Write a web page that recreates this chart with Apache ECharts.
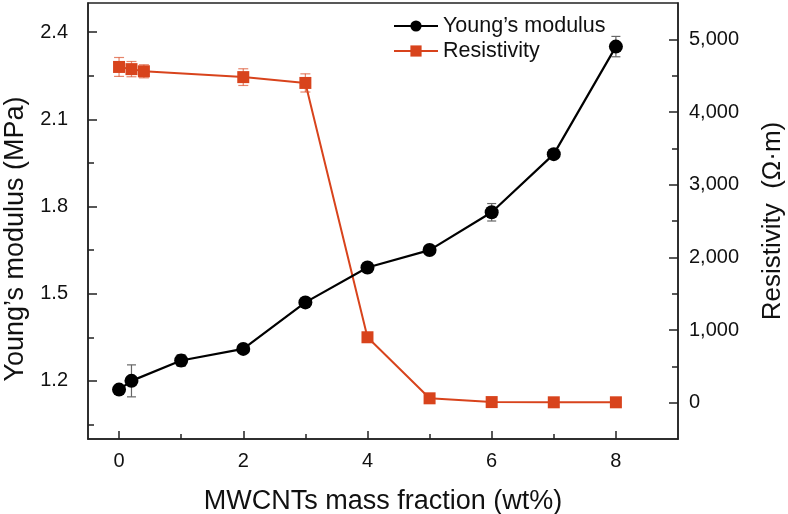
<!DOCTYPE html>
<html>
<head>
<meta charset="utf-8">
<script src="https://cdn.jsdelivr.net/npm/echarts@6/dist/echarts.min.js"></script>
<style>html,body{margin:0;padding:0;background:#fff}#c{width:788px;height:514px}</style>
</head>
<body>
<div id="c"></div>
<script>
// ---- data ----
const xYoung = [0, 0.2, 1, 2, 3, 4, 5, 6, 7, 8];
const young = [1.17, 1.20, 1.27, 1.31, 1.47, 1.59, 1.65, 1.78, 1.98, 2.35];
const youngErr = [0.01, 0.055, 0.02, 0.01, 0.015, 0.01, 0.015, 0.03, 0.015, 0.035];
const xRes = [0, 0.2, 0.4, 2, 3, 4, 5, 6, 7, 8];
const resistivity = [4620, 4590, 4560, 4480, 4400, 900, 60, 8, 5, 5];
const resErr = [130, 105, 90, 115, 125, 40, 30, 10, 10, 10];
const xTickLabels = [0, 2, 4, 6, 8];
const xMinorTicks = [1, 3, 5, 7];
const leftTickLabels = [1.2, 1.5, 1.8, 2.1, 2.4];
const leftMinorTicks = [1.05, 1.35, 1.65, 1.95, 2.25];
const rightTickLabels = [0, 1000, 2000, 3000, 4000, 5000];
const rightMinorTicks = [500, 1500, 2500, 3500, 4500];

const FONT = 'Liberation Sans';
const RED = '#d8431c';
const AX = '#222';

const youngData = xYoung.map((x, i) => [x, young[i]]);
const resData = xRes.map((x, i) => [x, resistivity[i]]);
const youngErrData = xYoung.map((x, i) => [x, young[i] - youngErr[i], young[i] + youngErr[i]]);
const resErrData = xRes.map((x, i) => [x, resistivity[i] - resErr[i], resistivity[i] + resErr[i]]);

function errRender(color, capHalf, lw) {
  return function (params, api) {
    const x = api.value(0);
    const p1 = api.coord([x, api.value(1)]);
    const p2 = api.coord([x, api.value(2)]);
    const st = { stroke: color, lineWidth: lw };
    return {
      type: 'group',
      children: [
        { type: 'line', shape: { x1: p1[0], y1: p1[1], x2: p2[0], y2: p2[1] }, style: st },
        { type: 'line', shape: { x1: p1[0] - capHalf, y1: p1[1], x2: p1[0] + capHalf, y2: p1[1] }, style: st },
        { type: 'line', shape: { x1: p2[0] - capHalf, y1: p2[1], x2: p2[0] + capHalf, y2: p2[1] }, style: st }
      ]
    };
  };
}

const fmtThousands = v => String(Math.round(v)).replace(/\B(?=(\d{3})+(?!\d))/g, ',');

const chart = echarts.init(document.getElementById('c'), null, { renderer: 'canvas' });
chart.setOption({
  animation: false,
  backgroundColor: '#fff',
  textStyle: { fontFamily: FONT },
  grid: { left: 88, right: 110, top: 3, bottom: 75, containLabel: false, outerBoundsMode: 'none', show: true, borderColor: AX, borderWidth: 1.5, backgroundColor: 'transparent' },
  legend: {
    data: ['Young\u2019s modulus', 'Resistivity'],
    orient: 'vertical',
    left: 388,
    top: 10,
    itemWidth: 44,
    itemHeight: 14,
    itemGap: 3,
    textStyle: { fontSize: 21.5, color: '#111', fontFamily: FONT }
  },
  xAxis: [
    {
      type: 'value', min: -0.5, max: 9, position: 'bottom',
      name: 'MWCNTs mass fraction (wt%)', nameLocation: 'middle', nameGap: 49,
      nameTextStyle: { fontSize: 27, color: '#111', fontFamily: FONT },
      axisLine: { show: true, onZero: false, lineStyle: { color: AX, width: 1.5 } },
      axisTick: { show: true, inside: true, length: 8, customValues: xTickLabels, lineStyle: { color: AX, width: 1.5 } },
      axisLabel: { show: true, customValues: xTickLabels, fontSize: 20, color: '#111', margin: 12, fontFamily: FONT },
      splitLine: { show: false }
    },
    {
      type: 'value', min: -0.5, max: 9, position: 'bottom',
      axisLine: { show: false, onZero: false },
      axisTick: { show: true, inside: true, length: 5, customValues: xMinorTicks, lineStyle: { color: AX, width: 1.5 } },
      axisLabel: { show: false },
      splitLine: { show: false }
    }
  ],
  yAxis: [
    {
      type: 'value', min: 1.0, max: 2.5, position: 'left',
      name: 'Young\u2019s modulus (MPa)', nameLocation: 'middle', nameGap: 58, nameRotate: 90,
      nameTextStyle: { fontSize: 27, color: '#111', fontFamily: FONT, padding: [0, 36, 0, 0] },
      axisLine: { show: true, onZero: false, lineStyle: { color: AX, width: 1.5 } },
      axisTick: { show: true, inside: true, length: 9, customValues: leftTickLabels, lineStyle: { color: AX, width: 1.5 } },
      axisLabel: { show: true, customValues: leftTickLabels, fontSize: 20, color: '#111', margin: 20, fontFamily: FONT, formatter: v => v.toFixed(1) },
      splitLine: { show: false }
    },
    {
      type: 'value', min: -500, max: 5500, position: 'right',
      name: 'Resistivity  (\u03A9\u00B7m)', nameLocation: 'middle', nameGap: 82, nameRotate: 90,
      nameTextStyle: { fontSize: 26, color: '#111', fontFamily: FONT },
      axisLine: { show: true, onZero: false, lineStyle: { color: AX, width: 1.5 } },
      axisTick: { show: true, inside: true, length: 9, customValues: rightTickLabels, lineStyle: { color: AX, width: 1.5 } },
      axisLabel: { show: true, customValues: rightTickLabels, fontSize: 20, color: '#111', margin: 11, fontFamily: FONT, formatter: fmtThousands },
      splitLine: { show: false }
    },
    {
      type: 'value', min: 1.0, max: 2.5, position: 'left',
      axisLine: { show: false, onZero: false },
      axisTick: { show: true, inside: true, length: 6, customValues: leftMinorTicks, lineStyle: { color: AX, width: 1.5 } },
      axisLabel: { show: false },
      splitLine: { show: false }
    },
    {
      type: 'value', min: -500, max: 5500, position: 'right',
      axisLine: { show: false, onZero: false },
      axisTick: { show: true, inside: true, length: 6, customValues: rightMinorTicks, lineStyle: { color: AX, width: 1.5 } },
      axisLabel: { show: false },
      splitLine: { show: false }
    }
  ],
  series: [
    {
      type: 'custom', name: 'youngErr', xAxisIndex: 0, yAxisIndex: 0, z: 1,
      renderItem: errRender('#666', 4.5, 1.2),
      encode: { x: 0, y: [1, 2] },
      data: youngErrData, silent: true
    },
    {
      type: 'custom', name: 'resErr', xAxisIndex: 0, yAxisIndex: 1, z: 1,
      renderItem: errRender('rgba(216,67,28,0.65)', 5, 1.2),
      encode: { x: 0, y: [1, 2] },
      data: resErrData, silent: true
    },
    {
      type: 'line', name: 'Young\u2019s modulus', xAxisIndex: 0, yAxisIndex: 0, z: 3,
      data: youngData,
      symbol: 'circle', symbolSize: 14,
      itemStyle: { color: '#000' },
      lineStyle: { color: '#000', width: 2.2 }
    },
    {
      type: 'line', name: 'Resistivity', xAxisIndex: 0, yAxisIndex: 1, z: 2,
      data: resData,
      symbol: 'rect', symbolSize: 12,
      itemStyle: { color: RED },
      lineStyle: { color: RED, width: 2 }
    }
  ]
});
</script>
</body>
</html>
